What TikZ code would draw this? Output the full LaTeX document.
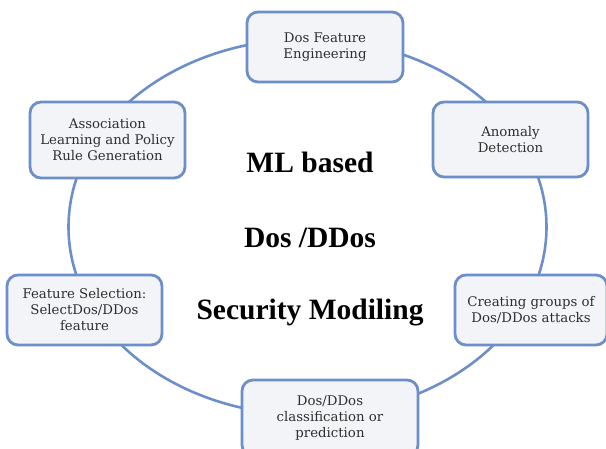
\documentclass[tikz,border=0pt]{standalone}
\usepackage{fontspec}
\setmainfont{Liberation Serif}
\newfontfamily\caixafont{DejaVu Serif}
\usepackage{xcolor}
\definecolor{azul}{HTML}{6D8FC9}
\definecolor{cinza}{HTML}{F3F4F7}
\definecolor{texto}{HTML}{2E2E2E}

\begin{document}
\begin{tikzpicture}[
		    x=1pt, y=-1pt,
		    caixa/.style={draw=azul, line width=2.8pt, fill=cinza, rounded corners=11pt, align=center, text=texto, inner sep=0pt, font=\caixafont\fontsize{13.3}{16}\selectfont},
		    titulo/.style={font=\bfseries\fontsize{29.5}{31}\selectfont, text=black}
		]
		\useasboundingbox (0,0) rectangle (606,448);
		\draw[azul, line width=2.6pt] (307.5,227) ellipse [x radius=239, y radius=188];
		% caixas ao redor do anel
		\node[caixa, minimum width=156pt, minimum height=70pt] (feng) at (325,47) {Dos Feature\\Engineering};
		\node[caixa, minimum width=155pt, minimum height=75pt] (anom) at (510.5,139.5) {Anomaly\\Detection};
		\node[caixa, minimum width=152pt, minimum height=70pt] (grupos) at (531,310) {Creating groups of\\Dos/DDos attacks};
		\node[caixa, minimum width=176pt, minimum height=76pt] (pred) at (330,418) {Dos/DDos\\classification or\\prediction};
		\node[caixa, minimum width=155pt, minimum height=70pt] (fsel) at (84.5,310) {Feature Selection:\\SelectDos/DDos\\feature};
		\node[caixa, minimum width=155pt, minimum height=76pt] (assoc) at (107.5,140) {Association\\Learning and Policy\\Rule Generation};
		% texto central
		\node[titulo] (ml) at (310,162) {ML based};
		\node[titulo] (dos) at (310,238) {Dos /DDos};
		\node[titulo] (sec) at (310,313) {Security Modiling};
		\end{tikzpicture}
\end{document}
